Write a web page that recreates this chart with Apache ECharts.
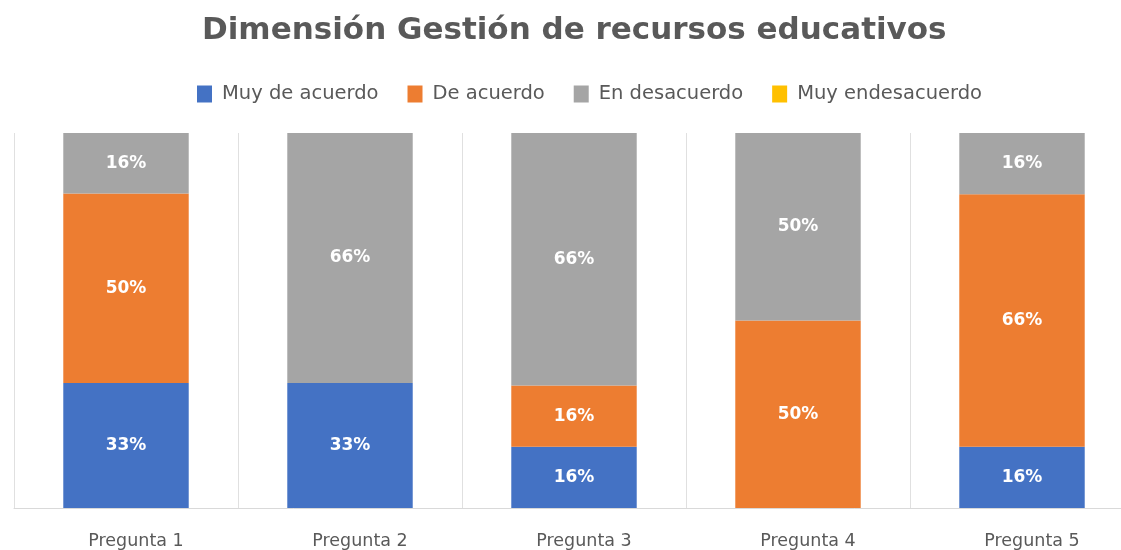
<!DOCTYPE html>
<html>
<head>
<meta charset="utf-8">
<script src="https://cdn.jsdelivr.net/npm/echarts@6/dist/echarts.min.js"></script>
<style>
html, body { margin: 0; padding: 0; background: #fff; overflow: hidden; }
#main { width: 1134px; height: 550px; }
</style>
</head>
<body>
<div id="main"></div>
<script>
var preguntas = ['Pregunta 1', 'Pregunta 2', 'Pregunta 3', 'Pregunta 4', 'Pregunta 5'];
var muyDeAcuerdo = [33, 33, 16, 0, 16];
var deAcuerdo = [50, 0, 16, 50, 66];
var enDesacuerdo = [16, 66, 66, 50, 16];
var muyEnDesacuerdo = [0, 0, 0, 0, 0];

var nombres = ['Muy de acuerdo', 'De acuerdo', 'En desacuerdo', 'Muy endesacuerdo'];
var colores = ['#4472c4', '#ed7d31', '#a5a5a5', '#ffc000'];
var valores = [muyDeAcuerdo, deAcuerdo, enDesacuerdo, muyEnDesacuerdo];

// apilado al 100%: cada columna se normaliza por su total
var totales = preguntas.map(function (p, i) {
	var s = 0;
	valores.forEach(function (v) { s += v[i]; });
	return s;
});

var chart = echarts.init(document.getElementById('main'));

var series = valores.map(function (v, k) {
	return {
		name: nombres[k],
		type: 'bar',
		stack: 'total',
		barWidth: '56%',
		itemStyle: { color: colores[k] },
		label: {
			show: true,
			color: '#fff',
			fontWeight: 'bold',
			fontSize: 17,
			fontFamily: 'DejaVu Sans',
			formatter: function (p) {
				return v[p.dataIndex] + '%';
			}
		},
		data: v.map(function (x, i) {
			return x > 0 ? x / totales[i] * 100 : null;
		})
	};
});

var option = {
	animation: false,
	title: {
		text: 'Dimensión Gestión de recursos educativos',
		left: 197,
		top: 10,
		textStyle: {
			color: '#595959',
			fontSize: 31,
			fontWeight: 'bold',
			fontFamily: 'DejaVu Sans'
		}
	},
	legend: {
		data: nombres,
		top: 84,
		left: 197,
		padding: 0,
		icon: 'rect',
		itemWidth: 15,
		itemHeight: 17,
		itemGap: 29,
		textStyle: { color: '#595959', fontSize: 19.5, fontFamily: 'DejaVu Sans', padding: [0, 0, 0, 5] }
	},
	grid: { left: 14, right: 0, top: 133, bottom: 42 },
	xAxis: {
		type: 'category',
		data: preguntas,
		axisLine: { lineStyle: { color: '#d9d9d9' } },
		axisTick: { show: false },
		splitLine: { show: true, lineStyle: { color: '#e0e0e0' } },
		axisLabel: { color: '#595959', fontSize: 17.5, fontFamily: 'DejaVu Sans', margin: 24, padding: [0, 0, 0, 20] }
	},
	yAxis: {
		type: 'value',
		min: 0,
		max: 100,
		show: false
	},
	series: series
};

chart.setOption(option);
</script>
</body>
</html>
